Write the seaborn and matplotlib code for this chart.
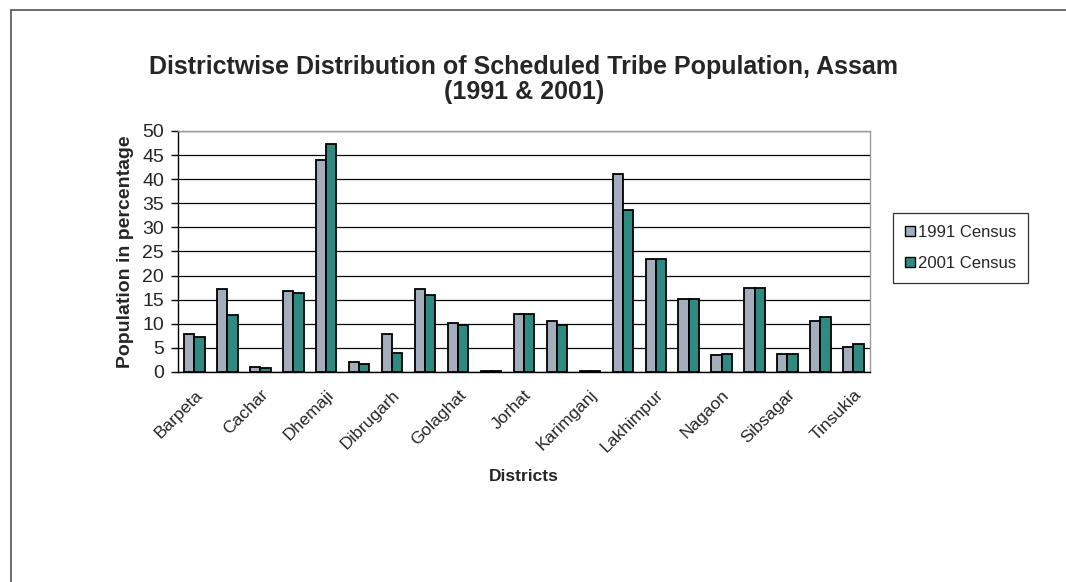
import matplotlib
matplotlib.use("Agg")
import matplotlib.pyplot as plt
from matplotlib.lines import Line2D
import seaborn as sns
import pandas as pd

districts = ["Barpeta", "Bongaigaon", "Cachar", "Darrang", "Dhemaji", "Dhubri",
             "Dibrugarh", "Goalpara", "Golaghat", "Hailakandi", "Jorhat", "Kamrup",
             "Karimganj", "Kokrajhar", "Lakhimpur", "Marigaon", "Nagaon", "Nalbari",
             "Sibsagar", "Sonitpur", "Tinsukia"]
census_1991 = [7.8, 17.1, 1.0, 16.8, 43.9, 2.1, 7.8, 17.1, 10.1, 0.1, 12.0, 10.6,
               0.1, 41.0, 23.4, 15.2, 3.5, 17.5, 3.7, 10.6, 5.2]
census_2001 = [7.3, 11.8, 0.9, 16.3, 47.3, 1.7, 3.9, 15.9, 9.8, 0.1, 12.1, 9.8,
               0.1, 33.5, 23.4, 15.1, 3.7, 17.5, 3.7, 11.4, 5.8]
series_names = ["1991 Census", "2001 Census"]
series_colors = ["#a3adbb", "#2f8a82"]
y_ticks = list(range(0, 51, 5))

df = pd.DataFrame({
    "District": districts * 2,
    "Census": [series_names[0]] * len(districts) + [series_names[1]] * len(districts),
    "Percent": census_1991 + census_2001,
})

sns.set_style("white")
plt.rcParams["font.family"] = ["Liberation Sans", "DejaVu Sans"]

fig = plt.figure(figsize=(10.66, 5.82), dpi=100)
ax = fig.add_axes([0.167, 0.361, 0.649, 0.414])

sns.barplot(data=df, x="District", y="Percent", hue="Census",
            palette=series_colors, width=0.62, edgecolor="black",
            linewidth=1.3, saturation=1, ax=ax, legend=False, zorder=3)

ax.set_ylim(0, 50)
ax.set_xlim(-0.5, len(districts) - 0.5)
ax.set_yticks(y_ticks)
ax.set_yticklabels([str(t) for t in y_ticks], fontsize=14)
ax.yaxis.grid(True, color="black", linewidth=0.9, zorder=0)
ax.set_axisbelow(True)

# labels on every other district, tick marks on category boundaries
major = list(range(0, len(districts), 2))
ax.set_xticks(major)
ax.set_xticklabels([districts[i] for i in major], rotation=45, ha="right",
                   rotation_mode="anchor", fontsize=12.5)
ax.set_xticks([i - 0.5 for i in range(len(districts) + 1)], minor=True)
ax.tick_params(axis="x", which="major", length=0, pad=11)
ax.tick_params(axis="x", which="minor", length=5, width=1, color="black", direction="out")
ax.tick_params(axis="y", which="major", length=5, width=1, color="black",
               direction="out", left=True, pad=5)

for side in ("left", "bottom"):
    ax.spines[side].set_color("black")
    ax.spines[side].set_linewidth(1.0)
for side in ("top", "right"):
    ax.spines[side].set_visible(True)
    ax.spines[side].set_color("#9a9a9a")
    ax.spines[side].set_linewidth(1.0)

ax.set_xlabel("Districts", fontsize=12.5, fontweight="bold", labelpad=10)
ax.set_ylabel("Population in percentage", fontsize=14, fontweight="bold", labelpad=6)
ax.set_title("Districtwise Distribution of Scheduled Tribe Population, Assam\n(1991 & 2001)",
             fontsize=18, fontweight="bold", pad=23, linespacing=1.05)

handles = [Line2D([0], [0], marker="s", linestyle="none", markersize=7,
                  markerfacecolor=c, markeredgecolor="black", markeredgewidth=1.0)
           for c in series_colors]
leg = fig.legend(handles, series_names, loc="center left",
                 bbox_to_anchor=(0.830, 0.574), fontsize=12, frameon=True,
                 handlelength=0.6, handletextpad=0.2, borderpad=0.7,
                 labelspacing=1.0, fancybox=False, edgecolor="black")
leg.get_frame().set_linewidth(0.9)

# outer chart border (top and left edges)
fig.add_artist(Line2D([0.010, 1.0], [0.982, 0.982], color="#555555", linewidth=1.2,
                      transform=fig.transFigure))
fig.add_artist(Line2D([0.010, 0.010], [0.0, 0.982], color="#555555", linewidth=1.2,
                      transform=fig.transFigure))

fig.savefig("out.png", dpi=100, facecolor="white")
